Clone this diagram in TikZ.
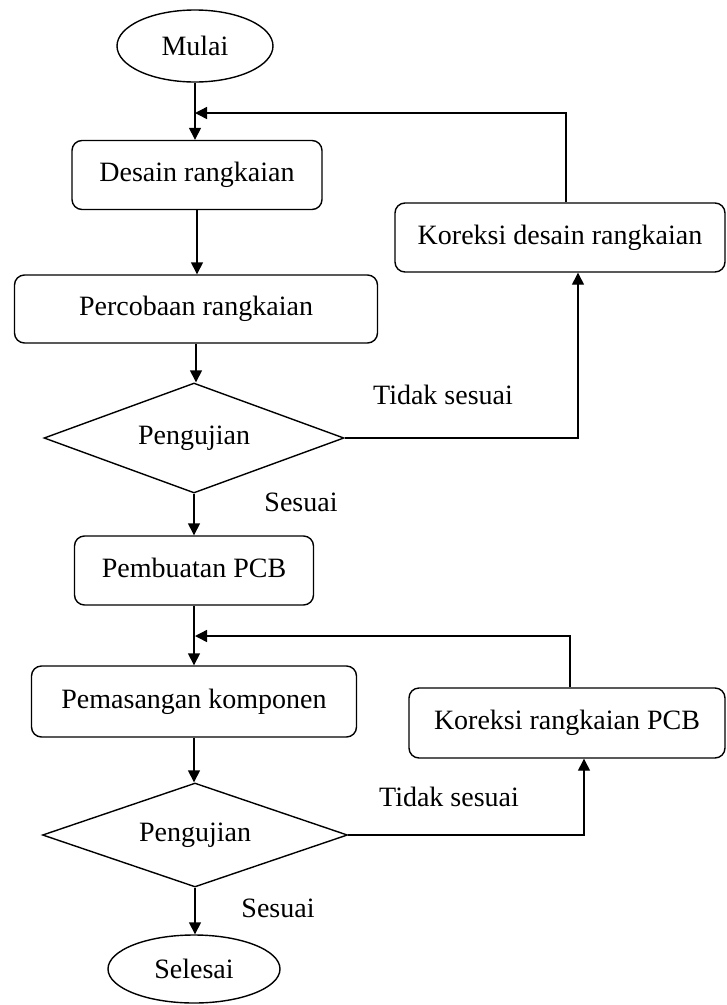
\documentclass[tikz,border=0pt]{standalone}
\usepackage{fontspec}
\setmainfont{Liberation Serif}
\usetikzlibrary{shapes.geometric,arrows.meta}
\begin{document}
\begin{tikzpicture}[x=1pt,y=-1pt,
  every node/.style={font=\fontsize{28}{33}\selectfont, inner sep=0pt},
  proc/.style={draw, rounded corners=10pt, line width=1.4pt, minimum height=69pt},
  term/.style={draw, ellipse, line width=1.4pt},
  decision/.style={draw, diamond, aspect=2.7, line width=1.4pt},
  arr/.style={line width=1.4pt, -{Triangle[length=12pt,width=12pt]}},
  ln/.style={line width=1.4pt},
  lbl/.style={}]
\useasboundingbox (0,0) rectangle (727,1005);
\node[term, minimum width=156pt, minimum height=72pt] (mulai) at (195,46) {Mulai};
\node[proc, minimum width=250pt] (desain) at (197,175) {\raisebox{6pt}{Desain rangkaian}};
\node[proc, minimum width=363pt, minimum height=68pt] (percobaan) at (196,309) {\raisebox{6pt}{Percobaan rangkaian}};
\node[decision, minimum width=300pt, minimum height=110pt] (uji1) at (194,438) {\raisebox{5pt}{Pengujian}};
\node[proc, minimum width=239pt] (pembuatan) at (194,570.5) {\raisebox{6pt}{Pembuatan PCB}};
\node[proc, minimum width=325pt, minimum height=71pt] (pemasangan) at (194,701.5) {\raisebox{6pt}{Pemasangan komponen}};
\node[decision, minimum width=305pt, minimum height=104pt] (uji2) at (195,835) {\raisebox{5pt}{Pengujian}};
\node[term, minimum width=172pt, minimum height=68pt] (selesai) at (194,969) {Selesai};
\node[proc, minimum width=330pt] (kor1) at (560,237.5) {\raisebox{6pt}{Koreksi desain rangkaian}};
\node[proc, minimum width=316pt, minimum height=70pt] (kor2) at (567,723) {\raisebox{6pt}{Koreksi rangkaian PCB}};
\node[lbl] (ts1) at (443,395) {Tidak sesuai};
\node[lbl] (s1) at (301,502) {Sesuai};
\node[lbl] (ts2) at (449,797) {Tidak sesuai};
\node[lbl] (s2) at (278,908) {Sesuai};
\coordinate (j1) at (195,113);
\coordinate (j2) at (195,636);
% main flow
\draw[arr] (mulai.south) -- (mulai.south |- desain.north);
\draw[arr] (desain.south) -- (desain.south |- percobaan.north);
\draw[arr] (percobaan.south) -- (percobaan.south |- uji1.north);
\draw[arr] (uji1.south) -- (uji1.south |- pembuatan.north);
\draw[arr] (pembuatan.south) -- (pembuatan.south |- pemasangan.north);
\draw[arr] (pemasangan.south) -- (pemasangan.south |- uji2.north);
\draw[arr] (uji2.south) -- (uji2.south |- selesai.north);
% loops
\draw[arr] (uji1.east) -| ([xshift=18pt]kor1.south);
\draw[arr] ([xshift=6pt]kor1.north) |- (j1);
\draw[arr] (uji2.east) -| ([xshift=17pt]kor2.south);
\draw[arr] ([xshift=3pt]kor2.north) |- (j2);
\end{tikzpicture}
\end{document}
